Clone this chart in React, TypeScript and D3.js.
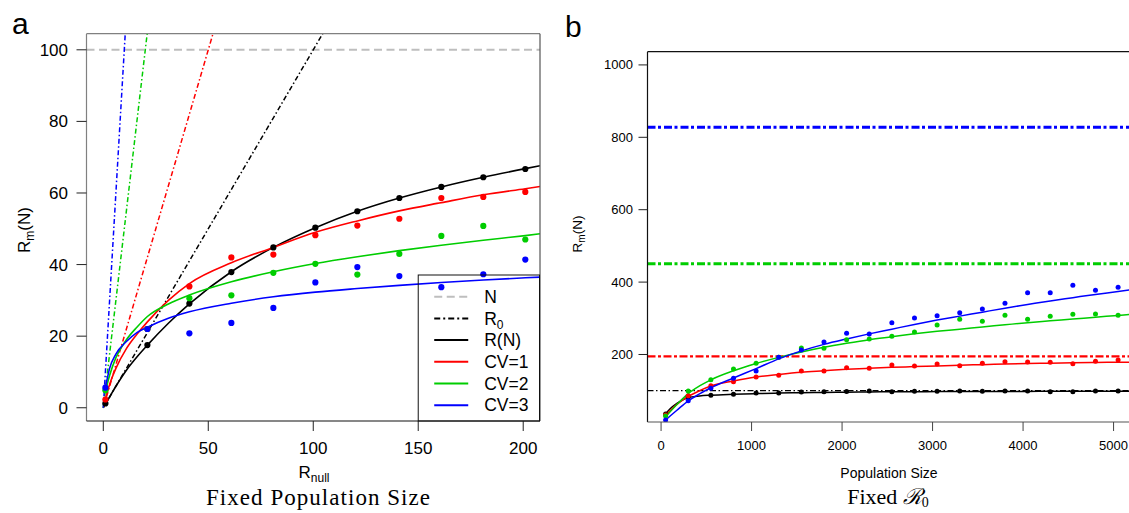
import React from "react";
import * as d3 from "d3";

// ---------- Panel a data (Fixed Population Size) ----------
const rnull = [1, 21, 41, 61, 81, 101, 121, 141, 161, 181, 201];
const ptsBlackA = [1.2, 17.5, 29.1, 37.9, 44.8, 50.3, 54.9, 58.6, 61.7, 64.4, 66.7];
const ptsRedA = [2.3, 22, 33.9, 42, 42.8, 48.2, 50.9, 52.8, 58.6, 58.9, 60.3];
const ptsGreenA = [4.9, 22, 30.6, 31.4, 37.7, 40.2, 37.2, 43, 48, 50.8, 47];
const ptsBlueA = [5.6, 22, 20.8, 23.7, 27.9, 35, 39.3, 36.8, 33.7, 37.3, 41.4];

const curveXA = [1, 3, 6, 11, 16, 21, 31, 41, 61, 81, 101, 121, 141, 161, 181, 201, 208];
const curveBlackA = [1, 3, 6, 10.5, 14.2, 17.5, 23.6, 29, 38, 44.8, 50.3, 54.9, 58.6, 61.7, 64.4, 66.8, 67.6];
const curveRedA = [2.5, 6.5, 11, 16.5, 20.5, 24, 30, 34.7, 40.5, 44.8, 49, 52.2, 55, 57.3, 59.5, 61.2, 61.8];
const curveGreenA = [4.5, 9, 14, 19, 22.5, 25.5, 29, 31.5, 35.2, 38, 40.3, 42.2, 43.9, 45.4, 46.8, 48.1, 48.6];
const curveBlueA = [5.5, 11, 15, 18.5, 21, 22.5, 25, 26.8, 29.2, 31, 32.3, 33.3, 34.2, 35, 35.7, 36.3, 36.5];

// R0 lines (two end points each)
const r0EndsX = [0, 220];
const r0BlackA = [0, 220];
const r0RedA = [0, 440];
const r0GreenA = [0, 1100];
const r0BlueA = [0, 2200];
const popN = 100;

const xTicksA = [0, 50, 100, 150, 200];
const yTicksA = [0, 20, 40, 60, 80, 100];

// ---------- Panel b data (Fixed R0) ----------
const popSize = [50, 300, 550, 800, 1050, 1300, 1550, 1800, 2050, 2300, 2550, 2800, 3050, 3300, 3550, 3800, 4050, 4300, 4550, 4800, 5050];
const ptsBlackB = [35.6, 83.4, 87.3, 90, 93.6, 93.6, 96.4, 97.3, 97.5, 99.2, 97.2, 98.3, 98.3, 99.2, 98.3, 99.2, 99.2, 97.2, 97.2, 99.2, 99.2];
const ptsRedB = [32.9, 86, 113.9, 124.9, 137.8, 142.5, 154.4, 154.4, 163.5, 161.8, 171, 168.2, 173.8, 169.1, 175.7, 180.1, 179.3, 178.5, 174.6, 181.2, 184.8];
const ptsGreenB = [30, 99.2, 130.4, 160, 175.6, 192.2, 218, 217, 241, 242.8, 250.3, 262.2, 281.5, 297.2, 291.7, 308.3, 297.2, 305.5, 311, 311.9, 308.3];
const ptsBlueB = [19, 72.4, 106.6, 134.2, 154.4, 192.2, 212.4, 234.5, 258.5, 256.6, 287.8, 300.8, 307.2, 315.5, 325.7, 341.4, 370.7, 370.7, 391.2, 377.3, 385.6];

const curveXB = [50, 100, 175, 300, 425, 550, 800, 1050, 1300, 1550, 1800, 2050, 2300, 2550, 2800, 3050, 3300, 3550, 3800, 4050, 4300, 4550, 4800, 5050, 5250];
const curveBlackB = [36, 50, 65, 81, 85.5, 87.5, 90, 92, 93.5, 94.5, 95.3, 96, 96.5, 97, 97.3, 97.5, 97.7, 97.9, 98, 98.1, 98.2, 98.3, 98.4, 98.5, 98.5];
const curveRedB = [33, 45, 62, 84, 100, 113, 127, 138, 145, 151, 155, 159, 162, 164.5, 166.5, 168.5, 170.5, 172, 173.5, 175, 176, 177, 178, 178.5, 179];
const curveGreenB = [28, 42, 62, 92, 113, 130, 155, 175, 192, 207, 220, 231, 241, 249, 257, 264, 270, 276, 282, 288, 293, 298, 303, 308, 312];
const curveBlueB = [19, 30, 46, 72, 91, 108, 135, 161, 188, 210, 228, 243, 257, 270, 283, 295, 306, 317, 328, 338, 348, 357, 366, 374, 381];

const r0LevelsB = [100, 195, 451, 828];

const xTicksB = [0, 1000, 2000, 3000, 4000, 5000];
const yTicksB = [200, 400, 600, 800, 1000];

const legendLabels = ["N", "R0", "R(N)", "CV=1", "CV=2", "CV=3"];

const BLACK = "#000000";
const RED = "#FF0000";
const GREEN = "#00CD00";
const BLUE = "#0000FF";
const GRAY = "#BEBEBE";
const SANS = "'Liberation Sans', Arial, sans-serif";
const SERIF = "'Liberation Serif', 'Times New Roman', serif";

export default function App() {
  // Panel a scales
  const xA = d3.scaleLinear().domain([-8, 208]).range([86.5, 540]);
  const yA = d3.scaleLinear().domain([-3.7, 104.5]).range([421, 33.7]);
  // Panel b scales
  const xB = d3.scaleLinear().domain([-150, 5250]).range([647.5, 1136.2]);
  const yB = d3.scaleLinear().domain([13.5, 1036.5]).range([422, 51.7]);

  const lineA = (xs: number[], ys: number[]) =>
    d3.line<number>().x((_, i) => xA(xs[i])).y((d) => yA(d)).curve(d3.curveMonotoneX)(ys) || "";
  const straightA = (xs: number[], ys: number[]) =>
    d3.line<number>().x((_, i) => xA(xs[i])).y((d) => yA(d))(ys) || "";
  const lineB = (xs: number[], ys: number[]) =>
    d3.line<number>().x((_, i) => xB(xs[i])).y((d) => yB(d)).curve(d3.curveMonotoneX)(ys) || "";

  const seriesA = [
    { pts: ptsBlackA, curve: curveBlackA, color: BLACK },
    { pts: ptsRedA, curve: curveRedA, color: RED },
    { pts: ptsGreenA, curve: curveGreenA, color: GREEN },
    { pts: ptsBlueA, curve: curveBlueA, color: BLUE },
  ];
  const r0A = [
    { ys: r0BlackA, color: BLACK },
    { ys: r0RedA, color: RED },
    { ys: r0GreenA, color: GREEN },
    { ys: r0BlueA, color: BLUE },
  ];
  const seriesB = [
    { pts: ptsBlackB, curve: curveBlackB, color: BLACK },
    { pts: ptsRedB, curve: curveRedB, color: RED },
    { pts: ptsGreenB, curve: curveGreenB, color: GREEN },
    { pts: ptsBlueB, curve: curveBlueB, color: BLUE },
  ];
  const r0B = [
    { v: r0LevelsB[0], color: BLACK, w: 1.3, dash: "6,2.5,1.5,2.5" },
    { v: r0LevelsB[1], color: RED, w: 2.2, dash: "8,2.5,3,2.5" },
    { v: r0LevelsB[2], color: GREEN, w: 3, dash: "8,2.5,3,3" },
    { v: r0LevelsB[3], color: BLUE, w: 3, dash: "8,2.5,3,3" },
  ];

  const [ax0, ax1] = xA.range();
  const [ay0, ay1] = yA.range();
  const [bx0, bx1] = xB.range();
  const [by0, by1] = yB.range();

  // legend geometry
  const legX0 = xA(150);
  const legY0 = 275;
  const legRowH = 21.7;
  const legendItems = [
    { color: GRAY, dash: "8,4.5", w: 2 },
    { color: BLACK, dash: "6,3,2,3", w: 2 },
    { color: BLACK, dash: "", w: 2 },
    { color: RED, dash: "", w: 2 },
    { color: GREEN, dash: "", w: 2 },
    { color: BLUE, dash: "", w: 2 },
  ];

  return (
    <svg
      width={1129}
      height={513}
      style={{ position: "absolute", left: 0, top: 0, background: "#fff" }}
    >
      <defs>
        <clipPath id="clipA">
          <rect x={ax0} y={ay1} width={ax1 - ax0} height={ay0 - ay1} />
        </clipPath>
        <clipPath id="clipB">
          <rect x={bx0} y={by1} width={bx1 - bx0} height={by0 - by1} />
        </clipPath>
      </defs>
      <rect x={0} y={0} width={1129} height={513} fill="#fff" />

      {/* ================= Panel a ================= */}
      <text x={12} y={33.5} fontFamily={SANS} fontSize={30}>a</text>

      <g clipPath="url(#clipA)">
        <line x1={ax0} x2={ax1} y1={yA(popN)} y2={yA(popN)} stroke={GRAY} strokeWidth={2} strokeDasharray="8,4.5" />
        {r0A.map((s, i) => (
          <path key={i} d={straightA(r0EndsX, s.ys)} fill="none" stroke={s.color} strokeWidth={1.5} strokeDasharray="5,2.5,1.5,2.5" />
        ))}
        {seriesA.map((s, i) => (
          <path key={i} d={lineA(curveXA, s.curve)} fill="none" stroke={s.color} strokeWidth={1.6} />
        ))}
        {seriesA.map((s, i) => (
          <g key={i}>
            {s.pts.map((v, j) => (
              <circle key={j} cx={xA(rnull[j])} cy={yA(v)} r={3.1} fill={s.color} />
            ))}
          </g>
        ))}
      </g>

      {/* box a */}
      <line x1={ax0} x2={ax1} y1={ay1} y2={ay1} stroke="#808080" strokeWidth={1.2} />
      <line x1={ax0} x2={ax0} y1={ay1} y2={ay0} stroke="#808080" strokeWidth={1.2} />
      <line x1={ax0} x2={ax1} y1={ay0} y2={ay0} stroke="#111" strokeWidth={1.2} />
      <line x1={ax1} x2={ax1} y1={ay1} y2={ay0} stroke="#555" strokeWidth={1.2} />

      {/* axes a */}
      {xTicksA.map((t) => (
        <g key={t}>
          <line x1={xA(t)} x2={xA(t)} y1={ay0} y2={ay0 + 10} stroke="#222" strokeWidth={1} />
          <text x={xA(t)} y={448} dy="0.35em" textAnchor="middle" fontFamily={SANS} fontSize={17}>{t}</text>
        </g>
      ))}
      {yTicksA.map((t) => (
        <g key={t}>
          <line x1={ax0 - 10} x2={ax0} y1={yA(t)} y2={yA(t)} stroke="#222" strokeWidth={1} />
          <text x={68} y={yA(t)} dy="0.35em" textAnchor="end" fontFamily={SANS} fontSize={17}>{t}</text>
        </g>
      ))}
      <text x={314} y={472} dy="0.35em" textAnchor="middle" fontFamily={SANS} fontSize={17}>
        R<tspan fontSize={12} dy="4">null</tspan>
      </text>
      <text transform={`translate(30,230) rotate(-90)`} textAnchor="middle" fontFamily={SANS} fontSize={17}>
        R<tspan fontSize={12} dy="4">m</tspan><tspan dy="-4">(N)</tspan>
      </text>
      <text x={318} y={497} dy="0.35em" textAnchor="middle" fontFamily={SERIF} fontSize={23} textLength={224} lengthAdjust="spacing">
        Fixed Population Size
      </text>

      {/* legend a */}
      <rect x={legX0} y={legY0} width={ax1 - legX0 - 0.5} height={ay0 - legY0} fill="none" stroke="#111" strokeWidth={1} />
      {legendItems.map((it, i) => {
        const yy = legY0 + 21.7 + i * legRowH;
        const label = legendLabels[i];
        return (
          <g key={i}>
            <line x1={legX0 + 16} x2={legX0 + 50} y1={yy} y2={yy} stroke={it.color} strokeWidth={it.w} strokeDasharray={it.dash || undefined} />
            <text x={legX0 + 66} y={yy} dy="0.35em" fontFamily={SANS} fontSize={17.5}>
              {label === "R0" ? (
                <>R<tspan fontSize={12} dy="4">0</tspan></>
              ) : (
                label
              )}
            </text>
          </g>
        );
      })}

      {/* ================= Panel b ================= */}
      <text x={565} y={36.5} fontFamily={SANS} fontSize={30}>b</text>

      <g clipPath="url(#clipB)">
        {r0B.map((s, i) => (
          <line key={i} x1={bx0} x2={bx1} y1={yB(s.v)} y2={yB(s.v)} stroke={s.color} strokeWidth={s.w} strokeDasharray={s.dash} />
        ))}
        {seriesB.map((s, i) => (
          <path key={i} d={lineB(curveXB, s.curve)} fill="none" stroke={s.color} strokeWidth={1.5} />
        ))}
        {seriesB.map((s, i) => (
          <g key={i}>
            {s.pts.map((v, j) => (
              <circle key={j} cx={xB(popSize[j])} cy={yB(v)} r={2.5} fill={s.color} />
            ))}
          </g>
        ))}
      </g>

      {/* box b */}
      <line x1={bx0} x2={bx1} y1={by1} y2={by1} stroke="#111" strokeWidth={1.2} />
      <line x1={bx0} x2={bx0} y1={by1} y2={by0} stroke="#111" strokeWidth={1.2} />
      <line x1={bx0} x2={bx1} y1={by0} y2={by0} stroke="#555" strokeWidth={1.2} />

      {xTicksB.map((t) => (
        <g key={t}>
          <line x1={xB(t)} x2={xB(t)} y1={by0} y2={by0 + 9} stroke="#444" strokeWidth={1} />
          <text x={xB(t)} y={445} dy="0.35em" textAnchor="middle" fontFamily={SANS} fontSize={13}>{t}</text>
        </g>
      ))}
      {yTicksB.map((t) => (
        <g key={t}>
          <line x1={bx0 - 9} x2={bx0} y1={yB(t)} y2={yB(t)} stroke="#222" strokeWidth={1} />
          <text x={633} y={yB(t)} dy="0.35em" textAnchor="end" fontFamily={SANS} fontSize={13}>{t}</text>
        </g>
      ))}
      <text x={889} y={473} dy="0.35em" textAnchor="middle" fontFamily={SANS} fontSize={14}>Population Size</text>
      <text transform={`translate(582,234) rotate(-90)`} textAnchor="middle" fontFamily={SANS} fontSize={13.5}>
        R<tspan fontSize={10} dy="3">m</tspan><tspan dy="-3">(N)</tspan>
      </text>
      <text x={888} y={496} dy="0.35em" textAnchor="middle" fontFamily={SERIF} fontSize={22}>
        Fixed <tspan fontFamily="'DejaVu Serif', serif" fontStyle="italic">ℛ</tspan><tspan fontSize={14} dy="3">0</tspan>
      </text>
    </svg>
  );
}
